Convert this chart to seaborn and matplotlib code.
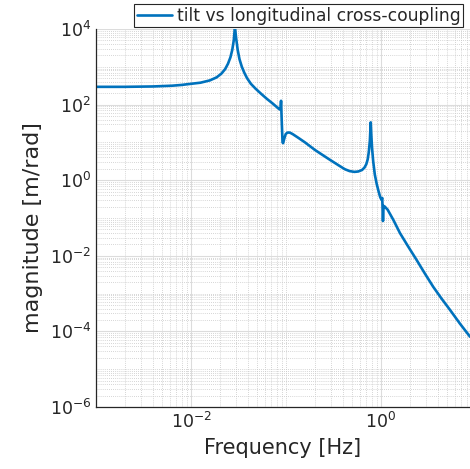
import numpy as np
import pandas as pd
import matplotlib
matplotlib.use('Agg')
import matplotlib.pyplot as plt
import matplotlib.ticker as mticker
import seaborn as sns

# values (frequency in Hz, magnitude in m/rad)
freq_hz = [0.001, 0.0020, 0.00398, 0.00631, 0.00794, 0.0100, 0.0126, 0.0158, 0.0186, 0.0209,
           0.0229, 0.0245, 0.0260, 0.0272, 0.0282, 0.0290, 0.0299, 0.0310, 0.0324, 0.0343,
           0.0363, 0.0389, 0.0427, 0.0479, 0.0550, 0.0631, 0.0724, 0.0813, 0.0861, 0.0875,
           0.0887, 0.0904, 0.0920, 0.0933, 0.0959, 0.0993, 0.1035, 0.1096, 0.1175, 0.1349,
           0.1585, 0.2018, 0.2818, 0.3548, 0.4169, 0.4677, 0.5248, 0.5754, 0.6310, 0.6683,
           0.6998, 0.7244, 0.7447, 0.7638, 0.7798, 0.7907, 0.8054, 0.8279, 0.8610, 0.9016,
           0.9441, 0.9817, 1.0139, 1.0304, 1.0399, 1.0495, 1.0641, 1.0965, 1.1749, 1.3490,
           1.5849, 1.9275, 2.3714, 2.8973, 3.5481, 4.3351, 5.3211, 6.7608, 8.6497]
magnitude = [295, 295, 302, 316, 331, 355, 380, 437, 525, 661,
             871, 1202, 1778, 2818, 5012, 11220, 5623, 2818, 1585, 1000,
             708, 501, 355, 263, 191, 141, 107, 83.2, 74.1, 75.9,
             126, 31.6, 10.0, 9.55, 12.6, 16.6, 18.2, 18.2, 16.6, 13.2,
             10.0, 6.31, 3.63, 2.51, 1.95, 1.74, 1.66, 1.70, 1.86, 2.14,
             2.63, 3.55, 5.62, 11.2, 33.9, 15.8, 7.08, 3.16, 1.41, 0.794,
             0.501, 0.355, 0.302, 0.339, 0.178, 0.0832, 0.209, 0.200, 0.166, 0.0891,
             0.0398, 0.0178, 0.00776, 0.00339, 0.00151, 7.41e-4, 3.72e-4, 1.62e-4, 7.24e-5]
series_label = 'tilt vs longitudinal cross-coupling'
x_ticks = [1e-2, 1e0]
y_ticks = [1e-6, 1e-4, 1e-2, 1e0, 1e2, 1e4]

df = pd.DataFrame({'f': freq_hz, 'mag': magnitude})

sns.set_style('white')
plt.rcParams['font.family'] = ['DejaVu Sans']
text_col = '#262626'

fig = plt.figure(figsize=(4.70, 4.69), dpi=100)
ax = fig.add_axes([96 / 470, 62 / 469, 374 / 470, 378 / 469])

sns.lineplot(data=df, x='f', y='mag', ax=ax, color='#0072BD', linewidth=1.9,
             estimator=None, sort=False, label=series_label)

ax.set_xscale('log')
ax.set_yscale('log')
ax.set_xlim(1e-3, 8.65)
ax.set_ylim(1e-6, 1e4)
ax.set_xticks(x_ticks)
ax.set_yticks(y_ticks)

for axis in (ax.xaxis, ax.yaxis):
    axis.set_major_formatter(mticker.LogFormatterSciNotation())
    axis.set_minor_locator(mticker.LogLocator(base=10, subs=np.arange(1, 10), numticks=100))
    axis.set_minor_formatter(mticker.NullFormatter())

ax.grid(True, which='major', color='#dcdcdc', linewidth=0.8, linestyle='-')
ax.grid(True, which='minor', color='#c8c8c8', linewidth=0.6, linestyle=(0, (1, 1.5)))
ax.set_axisbelow(True)

ax.tick_params(which='both', direction='in', colors=text_col, labelsize=12.5)
ax.tick_params(which='major', length=4, width=0.8)
ax.tick_params(which='minor', length=2.5, width=0.6)

for s in ('top', 'right'):
    ax.spines[s].set_visible(False)
for s in ('left', 'bottom'):
    ax.spines[s].set_color(text_col)
    ax.spines[s].set_linewidth(0.9)

ax.set_xlabel('Frequency [Hz]', fontsize=15, color=text_col, labelpad=4)
ax.set_ylabel('magnitude [m/rad]', fontsize=16, color=text_col)
ax.yaxis.set_label_coords(-0.142, 0.476)

leg = ax.legend(loc='upper right', bbox_to_anchor=(0.981, 1.066), borderaxespad=0,
                fontsize=12.3, frameon=True, fancybox=False, handlelength=2.1,
                handletextpad=0.25, borderpad=0.15)
leg.get_frame().set_edgecolor(text_col)
leg.get_frame().set_linewidth(0.8)
leg.get_frame().set_alpha(1)
for t in leg.get_texts():
    t.set_color(text_col)

fig.savefig('out.png', dpi=100)
